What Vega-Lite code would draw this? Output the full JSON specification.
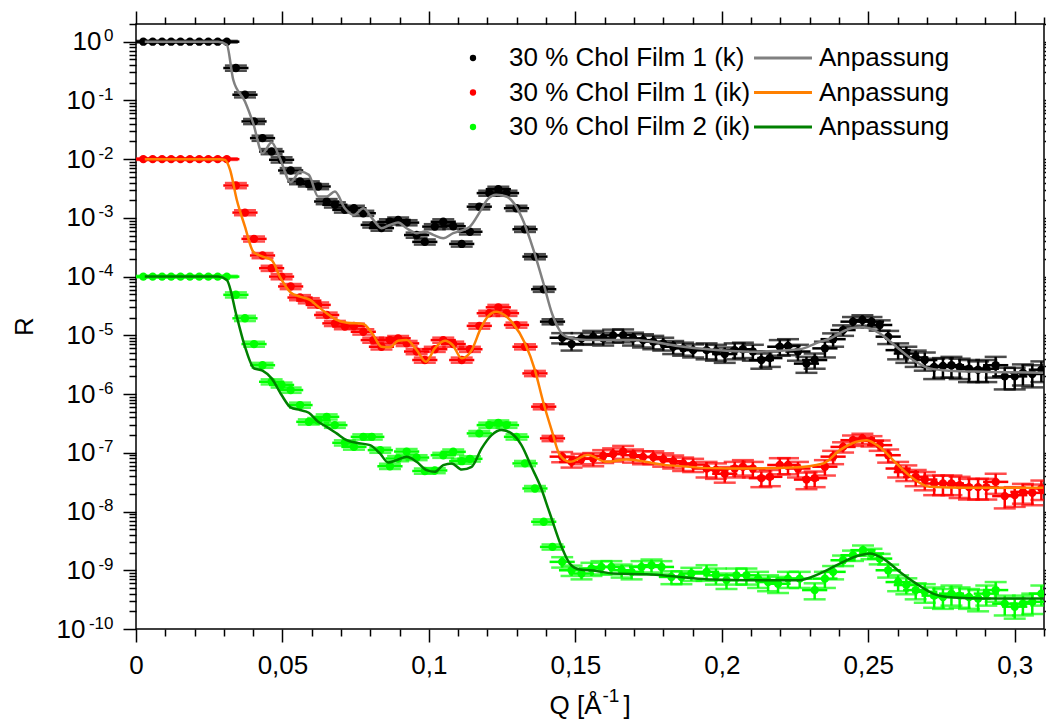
{
"$schema": "https://vega.github.io/schema/vega-lite/v6.json",
"width": 908, "height": 605,
"autosize": {"type": "none"},
"padding": {"left": 136, "top": 24, "right": 2, "bottom": 91},
"background": "white",
"config": {
 "font": "Liberation Sans",
 "view": {"stroke": "#000", "strokeWidth": 1.5},
 "axis": {"domain": false, "grid": false, "tickColor": "#000", "tickWidth": 1.5, "labelColor": "#000", "labelFont": "Liberation Sans", "labelFontSize": 26, "titleFont": "Liberation Sans", "titleFontSize": 26, "titleFontWeight": "normal", "titleColor": "#000"},
 "legend": {"labelFont": "Liberation Sans", "labelColor": "#000"}
},
"datasets": {
"pts": [
{"s":"a","Q":0.0025,"R":1,"dR":0.03,"dQ":0.0043},{"s":"a","Q":0.0057,"R":1,"dR":0.03,"dQ":0.0043},{"s":"a","Q":0.0089,"R":1,"dR":0.03,"dQ":0.0043},{"s":"a","Q":0.0120,"R":1,"dR":0.03,"dQ":0.0043},{"s":"a","Q":0.0152,"R":1,"dR":0.03,"dQ":0.0043},{"s":"a","Q":0.0184,"R":1,"dR":0.03,"dQ":0.0043},{"s":"a","Q":0.0216,"R":1,"dR":0.03,"dQ":0.0043},{"s":"a","Q":0.0247,"R":1,"dR":0.03,"dQ":0.0043},{"s":"a","Q":0.0279,"R":1,"dR":0.03,"dQ":0.0043},{"s":"a","Q":0.0310,"R":1,"dR":0.03,"dQ":0.0043},
{"s":"a","Q":0.0341,"R":0.356,"dR":0.036,"dQ":0.0043},{"s":"a","Q":0.0372,"R":0.125,"dR":0.0125,"dQ":0.0043},{"s":"a","Q":0.0403,"R":0.0439,"dR":0.0044,"dQ":0.0043},{"s":"a","Q":0.0432,"R":0.0228,"dR":0.0023,"dQ":0.0043},{"s":"a","Q":0.0463,"R":0.0135,"dR":0.00135,"dQ":0.0043},{"s":"a","Q":0.0497,"R":0.00975,"dR":0.001,"dQ":0.0043},{"s":"a","Q":0.0528,"R":0.00641,"dR":0.00064,"dQ":0.0043},{"s":"a","Q":0.0560,"R":0.00416,"dR":0.00042,"dQ":0.0043},{"s":"a","Q":0.0590,"R":0.0038,"dR":0.00038,"dQ":0.0043},{"s":"a","Q":0.0622,"R":0.00342,"dR":0.00034,"dQ":0.0043},
{"s":"a","Q":0.0651,"R":0.0019,"dR":0.00019,"dQ":0.0043},{"s":"a","Q":0.0679,"R":0.00167,"dR":0.00017,"dQ":0.0043},{"s":"a","Q":0.0713,"R":0.00137,"dR":0.00014,"dQ":0.0043},{"s":"a","Q":0.0744,"R":0.00146,"dR":0.00015,"dQ":0.0043},{"s":"a","Q":0.0776,"R":0.0012,"dR":0.00012,"dQ":0.0043},{"s":"a","Q":0.0810,"R":0.00076,"dR":0.000076,"dQ":0.0043},{"s":"a","Q":0.0838,"R":0.00067,"dR":0.000067,"dQ":0.0043},{"s":"a","Q":0.0867,"R":0.00086,"dR":0.000086,"dQ":0.0043},{"s":"a","Q":0.0895,"R":0.00092,"dR":0.000092,"dQ":0.0043},{"s":"a","Q":0.0924,"R":0.00083,"dR":0.000083,"dQ":0.0043},
{"s":"a","Q":0.0958,"R":0.00051,"dR":0.000051,"dQ":0.0043},{"s":"a","Q":0.0986,"R":0.00039,"dR":0.000039,"dQ":0.0043},{"s":"a","Q":0.1020,"R":0.00071,"dR":0.000071,"dQ":0.0043},{"s":"a","Q":0.1049,"R":0.00086,"dR":0.000086,"dQ":0.0043},{"s":"a","Q":0.1083,"R":0.00072,"dR":0.000072,"dQ":0.0043},{"s":"a","Q":0.1112,"R":0.00036,"dR":0.000036,"dQ":0.0043},{"s":"a","Q":0.1140,"R":0.00058,"dR":0.000058,"dQ":0.0043},{"s":"a","Q":0.1172,"R":0.00155,"dR":0.000155,"dQ":0.0043},{"s":"a","Q":0.1206,"R":0.00264,"dR":0.00026,"dQ":0.0043},{"s":"a","Q":0.1237,"R":0.00308,"dR":0.00031,"dQ":0.0043},
{"s":"a","Q":0.1265,"R":0.00264,"dR":0.00026,"dQ":0.0043},{"s":"a","Q":0.1299,"R":0.00146,"dR":0.00015,"dQ":0.0043},{"s":"a","Q":0.1328,"R":0.00064,"dR":0.000064,"dQ":0.0043},{"s":"a","Q":0.1362,"R":0.000219,"dR":0.000022,"dQ":0.0043},{"s":"a","Q":0.1392,"R":6.1e-5,"dR":6e-6,"dQ":0.0043},{"s":"a","Q":0.1422,"R":1.71e-5,"dR":1.7e-6,"dQ":0.0043},{"s":"a","Q":0.1455,"R":9.1e-6,"dR":1.8e-6,"dQ":0.0043},{"s":"a","Q":0.1487,"R":7.1e-6,"dR":1.6e-6,"dQ":0.0043},{"s":"a","Q":0.1521,"R":8.9e-6,"dR":2e-6,"dQ":0.0043},{"s":"a","Q":0.1561,"R":9.5e-6,"dR":2.4e-6,"dQ":0.0043},
{"s":"a","Q":0.1595,"R":8.9e-6,"dR":2.2e-6,"dQ":0.0043},{"s":"a","Q":0.1629,"R":1.0e-5,"dR":2.5e-6,"dQ":0.0043},{"s":"a","Q":0.1663,"R":1.01e-5,"dR":2.5e-6,"dQ":0.0043},{"s":"a","Q":0.1697,"R":8.9e-6,"dR":2.2e-6,"dQ":0.0043},{"s":"a","Q":0.1731,"R":8.3e-6,"dR":2.1e-6,"dQ":0.0043},{"s":"a","Q":0.1766,"R":7.8e-6,"dR":2e-6,"dQ":0.0043},{"s":"a","Q":0.1800,"R":7.3e-6,"dR":1.8e-6,"dQ":0.0043},{"s":"a","Q":0.1834,"R":6.4e-6,"dR":1.6e-6,"dQ":0.0043},{"s":"a","Q":0.1868,"R":6.0e-6,"dR":1.5e-6,"dQ":0.0043},{"s":"a","Q":0.1902,"R":5.6e-6,"dR":1.4e-6,"dQ":0.0043},
{"s":"a","Q":0.1948,"R":5.6e-6,"dR":1.7e-6,"dQ":0.0043},{"s":"a","Q":0.1980,"R":5.3e-6,"dR":1.6e-6,"dQ":0.0043},{"s":"a","Q":0.2010,"R":4.8e-6,"dR":1.4e-6,"dQ":0.0043},{"s":"a","Q":0.2044,"R":5.6e-6,"dR":1.7e-6,"dQ":0.0043},{"s":"a","Q":0.2072,"R":5.8e-6,"dR":1.7e-6,"dQ":0.0043},{"s":"a","Q":0.2106,"R":5.3e-6,"dR":1.6e-6,"dQ":0.0043},{"s":"a","Q":0.2135,"R":3.8e-6,"dR":1.1e-6,"dQ":0.0043},{"s":"a","Q":0.2164,"R":4.1e-6,"dR":1.2e-6,"dQ":0.0043},{"s":"a","Q":0.2198,"R":6.4e-6,"dR":1.9e-6,"dQ":0.0043},{"s":"a","Q":0.2226,"R":6.6e-6,"dR":2e-6,"dQ":0.0043},
{"s":"a","Q":0.2260,"R":5.3e-6,"dR":1.6e-6,"dQ":0.0043},{"s":"a","Q":0.2289,"R":3.3e-6,"dR":1e-6,"dQ":0.0043},{"s":"a","Q":0.2317,"R":3.8e-6,"dR":1.1e-6,"dQ":0.0043},{"s":"a","Q":0.2352,"R":6.0e-6,"dR":1.8e-6,"dQ":0.0043},{"s":"a","Q":0.2380,"R":8.6e-6,"dR":2.2e-6,"dQ":0.0043},{"s":"a","Q":0.2414,"R":1.23e-5,"dR":2.5e-6,"dQ":0.0043},{"s":"a","Q":0.2448,"R":1.71e-5,"dR":3.4e-6,"dQ":0.0043},{"s":"a","Q":0.2480,"R":1.83e-5,"dR":3.7e-6,"dQ":0.0043},{"s":"a","Q":0.2511,"R":1.71e-5,"dR":3.4e-6,"dQ":0.0043},{"s":"a","Q":0.2539,"R":1.5e-5,"dR":3e-6,"dQ":0.0043},
{"s":"a","Q":0.2568,"R":9.5e-6,"dR":2.4e-6,"dQ":0.0043},{"s":"a","Q":0.2602,"R":5.6e-6,"dR":1.7e-6,"dQ":0.0043},{"s":"a","Q":0.2630,"R":4.9e-6,"dR":1.5e-6,"dQ":0.0043},{"s":"a","Q":0.2662,"R":4.2e-6,"dR":1.3e-6,"dQ":0.0043},{"s":"a","Q":0.2693,"R":3.8e-6,"dR":1.3e-6,"dQ":0.0043},{"s":"a","Q":0.2725,"R":2.9e-6,"dR":1.1e-6,"dQ":0.0043},{"s":"a","Q":0.2755,"R":3.0e-6,"dR":1.1e-6,"dQ":0.0043},{"s":"a","Q":0.2784,"R":3.1e-6,"dR":1.2e-6,"dQ":0.0043},{"s":"a","Q":0.2812,"R":2.9e-6,"dR":1.1e-6,"dQ":0.0043},{"s":"a","Q":0.2844,"R":2.7e-6,"dR":1.1e-6,"dQ":0.0043},
{"s":"a","Q":0.2875,"R":2.6e-6,"dR":1.0e-6,"dQ":0.0043},{"s":"a","Q":0.2903,"R":2.7e-6,"dR":1.1e-6,"dQ":0.0043},{"s":"a","Q":0.2935,"R":3.1e-6,"dR":1.2e-6,"dQ":0.0043},{"s":"a","Q":0.2966,"R":2.0e-6,"dR":0.8e-6,"dQ":0.0043},{"s":"a","Q":0.3000,"R":2.0e-6,"dR":0.8e-6,"dQ":0.0043},{"s":"a","Q":0.3028,"R":2.3e-6,"dR":0.9e-6,"dQ":0.0043},{"s":"a","Q":0.3060,"R":2.2e-6,"dR":0.9e-6,"dQ":0.0043},{"s":"a","Q":0.3091,"R":2.6e-6,"dR":1.0e-6,"dQ":0.0043},

{"s":"b","Q":0.0025,"R":0.01,"dR":0.0003,"dQ":0.0043},{"s":"b","Q":0.0057,"R":0.01,"dR":0.0003,"dQ":0.0043},{"s":"b","Q":0.0089,"R":0.01,"dR":0.0003,"dQ":0.0043},{"s":"b","Q":0.0120,"R":0.01,"dR":0.0003,"dQ":0.0043},{"s":"b","Q":0.0152,"R":0.01,"dR":0.0003,"dQ":0.0043},{"s":"b","Q":0.0184,"R":0.01,"dR":0.0003,"dQ":0.0043},{"s":"b","Q":0.0216,"R":0.01,"dR":0.0003,"dQ":0.0043},{"s":"b","Q":0.0247,"R":0.01,"dR":0.0003,"dQ":0.0043},{"s":"b","Q":0.0279,"R":0.01,"dR":0.0003,"dQ":0.0043},{"s":"b","Q":0.0310,"R":0.01,"dR":0.0003,"dQ":0.0043},
{"s":"b","Q":0.0341,"R":3.56e-3,"dR":3.6e-4,"dQ":0.0043},{"s":"b","Q":0.0372,"R":1.23e-3,"dR":1.2e-4,"dQ":0.0043},{"s":"b","Q":0.0403,"R":4.39e-4,"dR":4.4e-5,"dQ":0.0043},{"s":"b","Q":0.0432,"R":2.29e-4,"dR":2.3e-5,"dQ":0.0043},{"s":"b","Q":0.0463,"R":1.39e-4,"dR":1.4e-5,"dQ":0.0043},{"s":"b","Q":0.0497,"R":1.0e-4,"dR":1e-5,"dQ":0.0043},{"s":"b","Q":0.0528,"R":6.8e-5,"dR":6.8e-6,"dQ":0.0043},{"s":"b","Q":0.0560,"R":4.4e-5,"dR":4.4e-6,"dQ":0.0043},{"s":"b","Q":0.0590,"R":3.9e-5,"dR":3.9e-6,"dQ":0.0043},{"s":"b","Q":0.0622,"R":3.3e-5,"dR":3.3e-6,"dQ":0.0043},
{"s":"b","Q":0.0651,"R":2.22e-5,"dR":2.2e-6,"dQ":0.0043},{"s":"b","Q":0.0679,"R":1.6e-5,"dR":1.6e-6,"dQ":0.0043},{"s":"b","Q":0.0713,"R":1.41e-5,"dR":1.4e-6,"dQ":0.0043},{"s":"b","Q":0.0744,"R":1.44e-5,"dR":1.4e-6,"dQ":0.0043},{"s":"b","Q":0.0776,"R":1.15e-5,"dR":1.2e-6,"dQ":0.0043},{"s":"b","Q":0.0810,"R":8.3e-6,"dR":8.3e-7,"dQ":0.0043},{"s":"b","Q":0.0838,"R":6.4e-6,"dR":6.4e-7,"dQ":0.0043},{"s":"b","Q":0.0867,"R":8.3e-6,"dR":8.3e-7,"dQ":0.0043},{"s":"b","Q":0.0895,"R":8.9e-6,"dR":8.9e-7,"dQ":0.0043},{"s":"b","Q":0.0924,"R":7.3e-6,"dR":7.3e-7,"dQ":0.0043},
{"s":"b","Q":0.0958,"R":5.3e-6,"dR":5.3e-7,"dQ":0.0043},{"s":"b","Q":0.0986,"R":3.8e-6,"dR":3.8e-7,"dQ":0.0043},{"s":"b","Q":0.1020,"R":5.8e-6,"dR":5.8e-7,"dQ":0.0043},{"s":"b","Q":0.1049,"R":8.3e-6,"dR":8.3e-7,"dQ":0.0043},{"s":"b","Q":0.1083,"R":7.1e-6,"dR":7.1e-7,"dQ":0.0043},{"s":"b","Q":0.1112,"R":3.8e-6,"dR":3.8e-7,"dQ":0.0043},{"s":"b","Q":0.1140,"R":5.8e-6,"dR":5.8e-7,"dQ":0.0043},{"s":"b","Q":0.1172,"R":1.45e-5,"dR":1.5e-6,"dQ":0.0043},{"s":"b","Q":0.1206,"R":2.38e-5,"dR":2.4e-6,"dQ":0.0043},{"s":"b","Q":0.1237,"R":3.0e-5,"dR":3e-6,"dQ":0.0043},
{"s":"b","Q":0.1265,"R":2.38e-5,"dR":2.4e-6,"dQ":0.0043},{"s":"b","Q":0.1299,"R":1.5e-5,"dR":1.5e-6,"dQ":0.0043},{"s":"b","Q":0.1328,"R":6.4e-6,"dR":6.4e-7,"dQ":0.0043},{"s":"b","Q":0.1362,"R":2.25e-6,"dR":2.3e-7,"dQ":0.0043},{"s":"b","Q":0.1392,"R":6.1e-7,"dR":6e-8,"dQ":0.0043},{"s":"b","Q":0.1422,"R":1.76e-7,"dR":1.8e-8,"dQ":0.0043},{"s":"b","Q":0.1455,"R":8.6e-8,"dR":1.7e-8,"dQ":0.0043},{"s":"b","Q":0.1487,"R":7.0e-8,"dR":1.4e-8,"dQ":0.0043},{"s":"b","Q":0.1521,"R":8.0e-8,"dR":1.6e-8,"dQ":0.0043},{"s":"b","Q":0.1561,"R":7.9e-8,"dR":2e-8,"dQ":0.0043},
{"s":"b","Q":0.1595,"R":8.9e-8,"dR":2.2e-8,"dQ":0.0043},{"s":"b","Q":0.1629,"R":9.5e-8,"dR":2.4e-8,"dQ":0.0043},{"s":"b","Q":0.1663,"R":1.05e-7,"dR":2.6e-8,"dQ":0.0043},{"s":"b","Q":0.1697,"R":9.1e-8,"dR":2.3e-8,"dQ":0.0043},{"s":"b","Q":0.1731,"R":8.5e-8,"dR":2.1e-8,"dQ":0.0043},{"s":"b","Q":0.1766,"R":8.5e-8,"dR":2.1e-8,"dQ":0.0043},{"s":"b","Q":0.1800,"R":7.8e-8,"dR":2e-8,"dQ":0.0043},{"s":"b","Q":0.1834,"R":7.2e-8,"dR":1.8e-8,"dQ":0.0043},{"s":"b","Q":0.1868,"R":6.6e-8,"dR":1.7e-8,"dQ":0.0043},{"s":"b","Q":0.1902,"R":6.3e-8,"dR":1.6e-8,"dQ":0.0043},
{"s":"b","Q":0.1948,"R":5.4e-8,"dR":1.6e-8,"dQ":0.0043},{"s":"b","Q":0.1980,"R":5.1e-8,"dR":1.5e-8,"dQ":0.0043},{"s":"b","Q":0.2010,"R":4.4e-8,"dR":1.3e-8,"dQ":0.0043},{"s":"b","Q":0.2044,"R":5.4e-8,"dR":1.6e-8,"dQ":0.0043},{"s":"b","Q":0.2072,"R":5.8e-8,"dR":1.7e-8,"dQ":0.0043},{"s":"b","Q":0.2106,"R":5.4e-8,"dR":1.6e-8,"dQ":0.0043},{"s":"b","Q":0.2135,"R":3.7e-8,"dR":1.1e-8,"dQ":0.0043},{"s":"b","Q":0.2164,"R":3.9e-8,"dR":1.2e-8,"dQ":0.0043},{"s":"b","Q":0.2198,"R":6.2e-8,"dR":1.9e-8,"dQ":0.0043},{"s":"b","Q":0.2226,"R":6.2e-8,"dR":1.9e-8,"dQ":0.0043},
{"s":"b","Q":0.2260,"R":5.4e-8,"dR":1.6e-8,"dQ":0.0043},{"s":"b","Q":0.2289,"R":3.5e-8,"dR":1.1e-8,"dQ":0.0043},{"s":"b","Q":0.2317,"R":3.7e-8,"dR":1.1e-8,"dQ":0.0043},{"s":"b","Q":0.2352,"R":5.8e-8,"dR":1.7e-8,"dQ":0.0043},{"s":"b","Q":0.2380,"R":8.6e-8,"dR":2.2e-8,"dQ":0.0043},{"s":"b","Q":0.2414,"R":1.26e-7,"dR":2.5e-8,"dQ":0.0043},{"s":"b","Q":0.2448,"R":1.64e-7,"dR":3.3e-8,"dQ":0.0043},{"s":"b","Q":0.2480,"R":1.76e-7,"dR":3.5e-8,"dQ":0.0043},{"s":"b","Q":0.2511,"R":1.6e-7,"dR":3.2e-8,"dQ":0.0043},{"s":"b","Q":0.2539,"R":1.35e-7,"dR":2.7e-8,"dQ":0.0043},
{"s":"b","Q":0.2568,"R":9.1e-8,"dR":2.3e-8,"dQ":0.0043},{"s":"b","Q":0.2602,"R":5.4e-8,"dR":1.6e-8,"dQ":0.0043},{"s":"b","Q":0.2630,"R":4.7e-8,"dR":1.4e-8,"dQ":0.0043},{"s":"b","Q":0.2662,"R":3.9e-8,"dR":1.2e-8,"dQ":0.0043},{"s":"b","Q":0.2693,"R":3.5e-8,"dR":1.2e-8,"dQ":0.0043},{"s":"b","Q":0.2725,"R":3.0e-8,"dR":1.1e-8,"dQ":0.0043},{"s":"b","Q":0.2755,"R":3.0e-8,"dR":1.1e-8,"dQ":0.0043},{"s":"b","Q":0.2784,"R":3.0e-8,"dR":1.1e-8,"dQ":0.0043},{"s":"b","Q":0.2812,"R":2.8e-8,"dR":1.1e-8,"dQ":0.0043},{"s":"b","Q":0.2844,"R":2.6e-8,"dR":1.0e-8,"dQ":0.0043},
{"s":"b","Q":0.2875,"R":2.6e-8,"dR":1.0e-8,"dQ":0.0043},{"s":"b","Q":0.2903,"R":2.6e-8,"dR":1.0e-8,"dQ":0.0043},{"s":"b","Q":0.2935,"R":3.2e-8,"dR":1.2e-8,"dQ":0.0043},{"s":"b","Q":0.2966,"R":1.83e-8,"dR":7e-9,"dQ":0.0043},{"s":"b","Q":0.3000,"R":1.9e-8,"dR":7e-9,"dQ":0.0043},{"s":"b","Q":0.3028,"R":2.16e-8,"dR":8e-9,"dQ":0.0043},{"s":"b","Q":0.3060,"R":2.08e-8,"dR":8e-9,"dQ":0.0043},{"s":"b","Q":0.3091,"R":2.47e-8,"dR":9e-9,"dQ":0.0043},

{"s":"c","Q":0.0025,"R":1e-4,"dR":3e-6,"dQ":0.0043},{"s":"c","Q":0.0057,"R":1e-4,"dR":3e-6,"dQ":0.0043},{"s":"c","Q":0.0089,"R":1e-4,"dR":3e-6,"dQ":0.0043},{"s":"c","Q":0.0120,"R":1e-4,"dR":3e-6,"dQ":0.0043},{"s":"c","Q":0.0152,"R":1e-4,"dR":3e-6,"dQ":0.0043},{"s":"c","Q":0.0184,"R":1e-4,"dR":3e-6,"dQ":0.0043},{"s":"c","Q":0.0216,"R":1e-4,"dR":3e-6,"dQ":0.0043},{"s":"c","Q":0.0247,"R":1e-4,"dR":3e-6,"dQ":0.0043},{"s":"c","Q":0.0279,"R":1e-4,"dR":3e-6,"dQ":0.0043},{"s":"c","Q":0.0310,"R":1e-4,"dR":3e-6,"dQ":0.0043},
{"s":"c","Q":0.0341,"R":4.9e-5,"dR":4.9e-6,"dQ":0.0043},{"s":"c","Q":0.0372,"R":1.95e-5,"dR":2e-6,"dQ":0.0043},{"s":"c","Q":0.0403,"R":7.1e-6,"dR":7e-7,"dQ":0.0043},{"s":"c","Q":0.0432,"R":3.1e-6,"dR":3e-7,"dQ":0.0043},{"s":"c","Q":0.0463,"R":1.62e-6,"dR":1.6e-7,"dQ":0.0043},{"s":"c","Q":0.0497,"R":1.43e-6,"dR":1.4e-7,"dQ":0.0043},{"s":"c","Q":0.0528,"R":1.17e-6,"dR":1.2e-7,"dQ":0.0043},{"s":"c","Q":0.0560,"R":6.5e-7,"dR":6.5e-8,"dQ":0.0043},{"s":"c","Q":0.0590,"R":3.37e-7,"dR":3.4e-8,"dQ":0.0043},{"s":"c","Q":0.0622,"R":3.55e-7,"dR":3.6e-8,"dQ":0.0043},
{"s":"c","Q":0.0651,"R":4.1e-7,"dR":4.1e-8,"dQ":0.0043},{"s":"c","Q":0.0679,"R":2.96e-7,"dR":3e-8,"dQ":0.0043},{"s":"c","Q":0.0713,"R":1.48e-7,"dR":1.5e-8,"dQ":0.0043},{"s":"c","Q":0.0744,"R":1.26e-7,"dR":1.3e-8,"dQ":0.0043},{"s":"c","Q":0.0776,"R":1.87e-7,"dR":1.9e-8,"dQ":0.0043},{"s":"c","Q":0.0805,"R":1.87e-7,"dR":1.9e-8,"dQ":0.0043},{"s":"c","Q":0.0834,"R":1.11e-7,"dR":1.1e-8,"dQ":0.0043},{"s":"c","Q":0.0867,"R":5.9e-8,"dR":6e-9,"dQ":0.0043},{"s":"c","Q":0.0895,"R":8.0e-8,"dR":8e-9,"dQ":0.0043},{"s":"c","Q":0.0924,"R":1.05e-7,"dR":1.1e-8,"dQ":0.0043},
{"s":"c","Q":0.0958,"R":8.3e-8,"dR":8e-9,"dQ":0.0043},{"s":"c","Q":0.0986,"R":4.9e-8,"dR":5e-9,"dQ":0.0043},{"s":"c","Q":0.1020,"R":5.0e-8,"dR":5e-9,"dQ":0.0043},{"s":"c","Q":0.1049,"R":9.1e-8,"dR":9e-9,"dQ":0.0043},{"s":"c","Q":0.1083,"R":1.04e-7,"dR":1e-8,"dQ":0.0043},{"s":"c","Q":0.1112,"R":7.2e-8,"dR":7e-9,"dQ":0.0043},{"s":"c","Q":0.1140,"R":7.9e-8,"dR":8e-9,"dQ":0.0043},{"s":"c","Q":0.1172,"R":2.14e-7,"dR":2.1e-8,"dQ":0.0043},{"s":"c","Q":0.1206,"R":2.96e-7,"dR":3e-8,"dQ":0.0043},{"s":"c","Q":0.1237,"R":3.24e-7,"dR":3.2e-8,"dQ":0.0043},
{"s":"c","Q":0.1265,"R":2.96e-7,"dR":3e-8,"dQ":0.0043},{"s":"c","Q":0.1299,"R":1.87e-7,"dR":1.9e-8,"dQ":0.0043},{"s":"c","Q":0.1328,"R":6.6e-8,"dR":6.6e-9,"dQ":0.0043},{"s":"c","Q":0.1362,"R":2.47e-8,"dR":2.5e-9,"dQ":0.0043},{"s":"c","Q":0.1392,"R":6.7e-9,"dR":6.7e-10,"dQ":0.0043},{"s":"c","Q":0.1422,"R":2.5e-9,"dR":2.5e-10,"dQ":0.0043},{"s":"c","Q":0.1455,"R":1.39e-9,"dR":2.8e-10,"dQ":0.0043},{"s":"c","Q":0.1487,"R":1.0e-9,"dR":2e-10,"dQ":0.0043},{"s":"c","Q":0.1521,"R":8.8e-10,"dR":1.8e-10,"dQ":0.0043},{"s":"c","Q":0.1555,"R":1.07e-9,"dR":2.7e-10,"dQ":0.0043},
{"s":"c","Q":0.1589,"R":1.14e-9,"dR":2.9e-10,"dQ":0.0043},{"s":"c","Q":0.1623,"R":1.14e-9,"dR":2.9e-10,"dQ":0.0043},{"s":"c","Q":0.1658,"R":1.0e-9,"dR":2.5e-10,"dQ":0.0043},{"s":"c","Q":0.1692,"R":9.4e-10,"dR":2.4e-10,"dQ":0.0043},{"s":"c","Q":0.1726,"R":1.14e-9,"dR":2.9e-10,"dQ":0.0043},{"s":"c","Q":0.1760,"R":1.22e-9,"dR":3e-10,"dQ":0.0043},{"s":"c","Q":0.1794,"R":1.14e-9,"dR":2.9e-10,"dQ":0.0043},{"s":"c","Q":0.1828,"R":7.7e-10,"dR":1.9e-10,"dQ":0.0043},{"s":"c","Q":0.1862,"R":7.7e-10,"dR":1.9e-10,"dQ":0.0043},{"s":"c","Q":0.1896,"R":8.8e-10,"dR":2.2e-10,"dQ":0.0043},
{"s":"c","Q":0.1948,"R":9.4e-10,"dR":2.8e-10,"dQ":0.0043},{"s":"c","Q":0.1980,"R":8.2e-10,"dR":2.5e-10,"dQ":0.0043},{"s":"c","Q":0.2016,"R":6.8e-10,"dR":2e-10,"dQ":0.0043},{"s":"c","Q":0.2050,"R":8.2e-10,"dR":2.5e-10,"dQ":0.0043},{"s":"c","Q":0.2084,"R":8.2e-10,"dR":2.5e-10,"dQ":0.0043},{"s":"c","Q":0.2124,"R":7.2e-10,"dR":2.2e-10,"dQ":0.0043},{"s":"c","Q":0.2158,"R":6.3e-10,"dR":1.9e-10,"dQ":0.0043},{"s":"c","Q":0.2192,"R":5.9e-10,"dR":1.8e-10,"dQ":0.0043},{"s":"c","Q":0.2226,"R":7.2e-10,"dR":2.2e-10,"dQ":0.0043},{"s":"c","Q":0.2266,"R":7.2e-10,"dR":2.2e-10,"dQ":0.0043},
{"s":"c","Q":0.2317,"R":4.6e-10,"dR":1.4e-10,"dQ":0.0043},{"s":"c","Q":0.2352,"R":7.2e-10,"dR":2.2e-10,"dQ":0.0043},{"s":"c","Q":0.2380,"R":9.4e-10,"dR":2.4e-10,"dQ":0.0043},{"s":"c","Q":0.2414,"R":1.48e-9,"dR":3e-10,"dQ":0.0043},{"s":"c","Q":0.2448,"R":1.8e-9,"dR":3.6e-10,"dQ":0.0043},{"s":"c","Q":0.2482,"R":2.2e-9,"dR":4.4e-10,"dQ":0.0043},{"s":"c","Q":0.2511,"R":1.93e-9,"dR":3.9e-10,"dQ":0.0043},{"s":"c","Q":0.2539,"R":1.58e-9,"dR":3.2e-10,"dQ":0.0043},{"s":"c","Q":0.2568,"R":1.0e-9,"dR":2.5e-10,"dQ":0.0043},{"s":"c","Q":0.2602,"R":6.3e-10,"dR":1.9e-10,"dQ":0.0043},
{"s":"c","Q":0.2630,"R":5.6e-10,"dR":1.7e-10,"dQ":0.0043},{"s":"c","Q":0.2662,"R":4.6e-10,"dR":1.4e-10,"dQ":0.0043},{"s":"c","Q":0.2693,"R":4.3e-10,"dR":1.5e-10,"dQ":0.0043},{"s":"c","Q":0.2725,"R":3.7e-10,"dR":1.4e-10,"dQ":0.0043},{"s":"c","Q":0.2755,"R":3.5e-10,"dR":1.3e-10,"dQ":0.0043},{"s":"c","Q":0.2784,"R":4.0e-10,"dR":1.5e-10,"dQ":0.0043},{"s":"c","Q":0.2812,"R":3.7e-10,"dR":1.4e-10,"dQ":0.0043},{"s":"c","Q":0.2844,"R":3.5e-10,"dR":1.3e-10,"dQ":0.0043},{"s":"c","Q":0.2875,"R":3.3e-10,"dR":1.3e-10,"dQ":0.0043},{"s":"c","Q":0.2903,"R":4.0e-10,"dR":1.5e-10,"dQ":0.0043},
{"s":"c","Q":0.2935,"R":4.6e-10,"dR":1.7e-10,"dQ":0.0043},{"s":"c","Q":0.2966,"R":2.7e-10,"dR":1e-10,"dQ":0.0043},{"s":"c","Q":0.3000,"R":2.4e-10,"dR":9e-11,"dQ":0.0043},{"s":"c","Q":0.3028,"R":2.7e-10,"dR":1e-10,"dQ":0.0043},{"s":"c","Q":0.3060,"R":2.9e-10,"dR":1.1e-10,"dQ":0.0043},{"s":"c","Q":0.3091,"R":4.0e-10,"dR":1.5e-10,"dQ":0.0043}
],
"fit": [
{"f":"fa","Q":0.003,"R":1},{"f":"fa","Q":0.028,"R":1},{"f":"fa","Q":0.031,"R":0.889},{"f":"fa","Q":0.0332,"R":0.225},{"f":"fa","Q":0.0372,"R":0.0962},{"f":"fa","Q":0.040,"R":0.0411},{"f":"fa","Q":0.0432,"R":0.01265},{"f":"fa","Q":0.0463,"R":0.01923},{"f":"fa","Q":0.0491,"R":0.0104},{"f":"fa","Q":0.0528,"R":4.06e-3},{"f":"fa","Q":0.056,"R":6.17e-3},{"f":"fa","Q":0.059,"R":5.41e-3},{"f":"fa","Q":0.0622,"R":2.31e-3},{"f":"fa","Q":0.0651,"R":2.31e-3},{"f":"fa","Q":0.0679,"R":2.81e-3},{"f":"fa","Q":0.0713,"R":1.46e-3},{"f":"fa","Q":0.0744,"R":1.12e-3},{"f":"fa","Q":0.0776,"R":1.46e-3},{"f":"fa","Q":0.081,"R":9.25e-4},{"f":"fa","Q":0.0838,"R":6.67e-4},{"f":"fa","Q":0.0867,"R":7.6e-4},{"f":"fa","Q":0.0895,"R":8.32e-4},{"f":"fa","Q":0.0924,"R":6.67e-4},{"f":"fa","Q":0.0958,"R":5.5e-4},{"f":"fa","Q":0.0986,"R":5.85e-4},{"f":"fa","Q":0.1015,"R":5.13e-4},{"f":"fa","Q":0.1049,"R":4.51e-4},{"f":"fa","Q":0.1083,"R":5.5e-4},{"f":"fa","Q":0.1112,"R":6.08e-4},{"f":"fa","Q":0.114,"R":7.11e-4},{"f":"fa","Q":0.1175,"R":1.29e-3},{"f":"fa","Q":0.1201,"R":2.09e-3},{"f":"fa","Q":0.123,"R":2.47e-3},{"f":"fa","Q":0.1265,"R":2.31e-3},{"f":"fa","Q":0.1294,"R":1.67e-3},{"f":"fa","Q":0.1323,"R":8.65e-4},{"f":"fa","Q":0.1357,"R":2.85e-4},{"f":"fa","Q":0.1391,"R":7.71e-5},{"f":"fa","Q":0.142,"R":2.38e-5},{"f":"fa","Q":0.1442,"R":1.32e-5},{"f":"fa","Q":0.1459,"R":1.01e-5},{"f":"fa","Q":0.1488,"R":8.91e-6},{"f":"fa","Q":0.1538,"R":8.34e-6},{"f":"fa","Q":0.1698,"R":8.34e-6},{"f":"fa","Q":0.1869,"R":6.41e-6},{"f":"fa","Q":0.1982,"R":5.62e-6},{"f":"fa","Q":0.2096,"R":5.27e-6},{"f":"fa","Q":0.2267,"R":5.78e-6},{"f":"fa","Q":0.2321,"R":7.31e-6},{"f":"fa","Q":0.2378,"R":9.25e-6},{"f":"fa","Q":0.2414,"R":1.17e-5},{"f":"fa","Q":0.245,"R":1.35e-5},{"f":"fa","Q":0.2483,"R":1.37e-5},{"f":"fa","Q":0.2539,"R":1.08e-5},{"f":"fa","Q":0.2596,"R":6.41e-6},{"f":"fa","Q":0.2653,"R":3.8e-6},{"f":"fa","Q":0.271,"R":2.74e-6},{"f":"fa","Q":0.2778,"R":2.5e-6},{"f":"fa","Q":0.2892,"R":2.4e-6},{"f":"fa","Q":0.3097,"R":2.31e-6},
{"f":"fb","Q":0.003,"R":0.01},{"f":"fb","Q":0.0285,"R":0.01},{"f":"fb","Q":0.0304,"R":0.0097},{"f":"fb","Q":0.0321,"R":6.61e-3},{"f":"fb","Q":0.0344,"R":2.04e-3},{"f":"fb","Q":0.0372,"R":7.11e-4},{"f":"fb","Q":0.040,"R":2.67e-4},{"f":"fb","Q":0.0432,"R":2.19e-4},{"f":"fb","Q":0.0463,"R":1.92e-4},{"f":"fb","Q":0.0491,"R":1.0e-4},{"f":"fb","Q":0.0528,"R":5.37e-5},{"f":"fb","Q":0.056,"R":4.56e-5},{"f":"fb","Q":0.0594,"R":4.01e-5},{"f":"fb","Q":0.0622,"R":3.08e-5},{"f":"fb","Q":0.0651,"R":2.38e-5},{"f":"fb","Q":0.0685,"R":1.83e-5},{"f":"fb","Q":0.072,"R":1.64e-5},{"f":"fb","Q":0.0776,"R":1.56e-5},{"f":"fb","Q":0.081,"R":1.01e-5},{"f":"fb","Q":0.0838,"R":6.41e-6},{"f":"fb","Q":0.0867,"R":6.25e-6},{"f":"fb","Q":0.0895,"R":8.11e-6},{"f":"fb","Q":0.0924,"R":8.34e-6},{"f":"fb","Q":0.0958,"R":5.62e-6},{"f":"fb","Q":0.099,"R":3.56e-6},{"f":"fb","Q":0.102,"R":6.01e-6},{"f":"fb","Q":0.1055,"R":8.11e-6},{"f":"fb","Q":0.1081,"R":6.85e-6},{"f":"fb","Q":0.1112,"R":4.06e-6},{"f":"fb","Q":0.1146,"R":5.62e-6},{"f":"fb","Q":0.1178,"R":1.35e-5},{"f":"fb","Q":0.1201,"R":2.08e-5},{"f":"fb","Q":0.123,"R":2.53e-5},{"f":"fb","Q":0.1258,"R":2.22e-5},{"f":"fb","Q":0.1287,"R":1.6e-5},{"f":"fb","Q":0.1328,"R":7.31e-6},{"f":"fb","Q":0.1362,"R":2.56e-6},{"f":"fb","Q":0.139,"R":7.4e-7},{"f":"fb","Q":0.1419,"R":2.44e-7},{"f":"fb","Q":0.1447,"R":9.14e-8},{"f":"fb","Q":0.1481,"R":7.01e-8},{"f":"fb","Q":0.1543,"R":9.14e-8},{"f":"fb","Q":0.1606,"R":7.01e-8},{"f":"fb","Q":0.1674,"R":7.71e-8},{"f":"fb","Q":0.1811,"R":6.17e-8},{"f":"fb","Q":0.2038,"R":5.41e-8},{"f":"fb","Q":0.2244,"R":5.62e-8},{"f":"fb","Q":0.2346,"R":6.59e-8},{"f":"fb","Q":0.2403,"R":1.11e-7},{"f":"fb","Q":0.246,"R":1.54e-7},{"f":"fb","Q":0.2494,"R":1.64e-7},{"f":"fb","Q":0.2539,"R":1.26e-7},{"f":"fb","Q":0.2596,"R":6.59e-8},{"f":"fb","Q":0.2653,"R":3.66e-8},{"f":"fb","Q":0.271,"R":2.64e-8},{"f":"fb","Q":0.2835,"R":2.54e-8},{"f":"fb","Q":0.3097,"R":2.54e-8},
{"f":"fc","Q":0.003,"R":1e-4},{"f":"fc","Q":0.0281,"R":1e-4},{"f":"fc","Q":0.031,"R":8.77e-5},{"f":"fc","Q":0.0344,"R":2.08e-5},{"f":"fc","Q":0.0372,"R":6.41e-6},{"f":"fc","Q":0.0403,"R":2.74e-6},{"f":"fc","Q":0.0432,"R":2.5e-6},{"f":"fc","Q":0.0463,"R":1.85e-6},{"f":"fc","Q":0.0497,"R":9.62e-7},{"f":"fc","Q":0.0528,"R":5.93e-7},{"f":"fc","Q":0.056,"R":5.35e-7},{"f":"fc","Q":0.059,"R":4.81e-7},{"f":"fc","Q":0.0622,"R":3.37e-7},{"f":"fc","Q":0.0651,"R":2.77e-7},{"f":"fc","Q":0.0685,"R":2.14e-7},{"f":"fc","Q":0.0719,"R":1.64e-7},{"f":"fc","Q":0.0753,"R":1.48e-7},{"f":"fc","Q":0.0799,"R":1.35e-7},{"f":"fc","Q":0.0833,"R":9.75e-8},{"f":"fc","Q":0.0861,"R":6.85e-8},{"f":"fc","Q":0.089,"R":7.5e-8},{"f":"fc","Q":0.0924,"R":8.55e-8},{"f":"fc","Q":0.0958,"R":7.03e-8},{"f":"fc","Q":0.0992,"R":5.07e-8},{"f":"fc","Q":0.102,"R":4.74e-8},{"f":"fc","Q":0.1049,"R":6.17e-8},{"f":"fc","Q":0.1078,"R":6.59e-8},{"f":"fc","Q":0.1112,"R":5.2e-8},{"f":"fc","Q":0.1146,"R":5.78e-8},{"f":"fc","Q":0.118,"R":1.19e-7},{"f":"fc","Q":0.1214,"R":2.0e-7},{"f":"fc","Q":0.1248,"R":2.44e-7},{"f":"fc","Q":0.1282,"R":2.14e-7},{"f":"fc","Q":0.1316,"R":1.35e-7},{"f":"fc","Q":0.135,"R":5.78e-8},{"f":"fc","Q":0.1379,"R":2.82e-8},{"f":"fc","Q":0.1413,"R":9.27e-9},{"f":"fc","Q":0.1453,"R":2.5e-9},{"f":"fc","Q":0.1481,"R":1.3e-9},{"f":"fc","Q":0.1515,"R":1.03e-9},{"f":"fc","Q":0.1572,"R":9.75e-10},{"f":"fc","Q":0.1629,"R":8.77e-10},{"f":"fc","Q":0.1743,"R":8.55e-10},{"f":"fc","Q":0.1857,"R":7.71e-10},{"f":"fc","Q":0.197,"R":6.93e-10},{"f":"fc","Q":0.2084,"R":6.76e-10},{"f":"fc","Q":0.2262,"R":6.76e-10},{"f":"fc","Q":0.2334,"R":8.77e-10},{"f":"fc","Q":0.2403,"R":1.3e-9},{"f":"fc","Q":0.246,"R":1.73e-9},{"f":"fc","Q":0.2505,"R":1.93e-9},{"f":"fc","Q":0.2551,"R":1.58e-9},{"f":"fc","Q":0.2608,"R":9.38e-10},{"f":"fc","Q":0.2664,"R":5.93e-10},{"f":"fc","Q":0.2721,"R":4.01e-10},{"f":"fc","Q":0.279,"R":3.43e-10},{"f":"fc","Q":0.2892,"R":3.3e-10},{"f":"fc","Q":0.3097,"R":3.31e-10}
]
},
"resolve": {"axis": {"x": "independent", "y": "independent"}},
"layer": [
{
 "data": {"name": "pts"},
 "mark": {"type": "errorbar", "thickness": 2.5, "clip": true},
 "encoding": {
  "x": {"field": "Q", "type": "quantitative", "scale": {"domain": [0, 0.31], "nice": false, "zero": false}, "axis": null},
  "xError": {"field": "dQ"},
  "y": {"field": "R", "type": "quantitative", "scale": {"type": "log", "domain": [1e-10, 2], "nice": false}, "axis": null},
  "color": {"field": "s", "type": "nominal", "scale": {"domain": ["c", "b", "a"], "range": ["#00ff00", "#ff0000", "#000000"]}, "legend": null}
 }
},
{
 "data": {"name": "pts"},
 "mark": {"type": "errorbar", "thickness": 2.5, "ticks": {"size": 22}, "clip": true},
 "encoding": {
  "x": {"field": "Q", "type": "quantitative", "scale": {"domain": [0, 0.31], "nice": false, "zero": false}, "axis": null},
  "y": {"field": "R", "type": "quantitative", "scale": {"type": "log", "domain": [1e-10, 2], "nice": false}, "axis": null},
  "yError": {"field": "dR"},
  "color": {"field": "s", "type": "nominal", "scale": {"domain": ["c", "b", "a"], "range": ["#00ff00", "#ff0000", "#000000"]}, "legend": null}
 }
},
{
 "data": {"name": "pts"},
 "mark": {"type": "point", "shape": "circle", "filled": true, "size": 70, "opacity": 1, "strokeWidth": 0, "clip": true},
 "encoding": {
  "x": {"field": "Q", "type": "quantitative", "scale": {"domain": [0, 0.31], "nice": false, "zero": false},
   "axis": {"orient": "bottom", "title": "Q [Å", "values": [0, 0.05, 0.1, 0.15, 0.2, 0.25, 0.3], "tickSize": 13, "labelPadding": 10, "labelExpr": "replace(format(datum.value, '~g'), '.', ',')", "titleX": 465, "titleY": 84, "titleBaseline": "alphabetic", "titleAlign": "right", "titleAnchor": null, "labelFlush": false, "labelOverlap": false}},
  "y": {"field": "R", "type": "quantitative", "scale": {"type": "log", "domain": [1e-10, 2], "nice": false},
   "axis": {"orient": "left", "title": "R", "values": [1, 1e-1, 1e-2, 1e-3, 1e-4, 1e-5, 1e-6, 1e-7, 1e-8, 1e-9, 1e-10], "tickSize": 13,
    "labelPadding": {"condition": [{"test": "datum.value > 0.5", "value": 22}, {"test": "datum.value < 5e-10", "value": 38}], "value": 28},
    "labelExpr": "'10'", "labelFlush": false, "labelOverlap": false, "titleX": -104, "titleY": 302, "titleAngle": -90, "titleBaseline": "alphabetic", "titleAlign": "center"}},
  "fill": {"field": "s", "type": "nominal", "scale": {"domain": ["a", "b", "c"], "range": ["#000000", "#ff0000", "#00ff00"]},
   "legend": {"orient": "none", "legendX": 324, "legendY": 21, "title": null, "padding": 0, "symbolType": "circle", "symbolSize": 40, "symbolStrokeWidth": 0, "labelFontSize": 26, "labelOffset": 23, "rowPadding": 8.5, "labelLimit": 400,
    "labelExpr": "datum.label == 'a' ? '30 % Chol Film 1 (k)' : (datum.label == 'b' ? '30 % Chol Film 1 (ik)' : '30 % Chol Film 2 (ik)')"}}
 }
},
{
 "data": {"name": "fit"},
 "mark": {"type": "line", "strokeWidth": 2.5, "interpolate": "monotone", "clip": true},
 "encoding": {
  "x": {"field": "Q", "type": "quantitative", "scale": {"domain": [0, 0.31], "nice": false, "zero": false},
   "axis": {"orient": "bottom", "title": "-1", "titleFontSize": 19, "titleX": 466, "titleY": 72, "titleBaseline": "alphabetic", "titleAlign": "left", "titleAnchor": null, "labels": false, "tickSize": 7, "values": [0.01,0.02,0.03,0.04,0.06,0.07,0.08,0.09,0.11,0.12,0.13,0.14,0.16,0.17,0.18,0.19,0.21,0.22,0.23,0.24,0.26,0.27,0.28,0.29,0.31]}},
  "y": {"field": "R", "type": "quantitative", "scale": {"type": "log", "domain": [1e-10, 2], "nice": false},
   "axis": {"orient": "left", "title": null, "values": [1, 1e-1, 1e-2, 1e-3, 1e-4, 1e-5, 1e-6, 1e-7, 1e-8, 1e-9, 1e-10], "tickSize": 13, "tickOpacity": 0, "labelPadding": 10, "labelFontSize": 17, "labelOffset": -6, "labelExpr": "'' + round(log(datum.value)/LN10)", "labelFlush": false, "labelOverlap": false}},
  "stroke": {"field": "f", "type": "nominal", "scale": {"domain": ["fa", "fb", "fc"], "range": ["#808080", "#ff8000", "#008000"]},
   "legend": {"orient": "none", "legendX": 634, "legendY": 21, "title": null, "padding": 0, "symbolType": "M-4,0H4", "symbolSize": 210, "symbolStrokeWidth": 3, "labelFontSize": 26, "labelOffset": 23, "rowPadding": 8.5, "labelExpr": "'Anpassung'"}}
 }
},
{
 "data": {"name": "fit"},
 "mark": {"type": "point", "opacity": 0},
 "encoding": {
  "x": {"field": "Q", "type": "quantitative", "scale": {"domain": [0, 0.31], "nice": false, "zero": false},
   "axis": {"orient": "top", "title": "]", "titleX": 487, "titleY": 689, "titleBaseline": "alphabetic", "titleAlign": "left", "titleAnchor": null, "labels": false, "tickSize": 13, "values": [0, 0.05, 0.1, 0.15, 0.2, 0.25, 0.3]}},
  "y": {"field": "R", "type": "quantitative", "scale": {"type": "log", "domain": [1e-10, 2], "nice": false},
   "axis": {"orient": "left", "title": null, "labels": false, "tickSize": 7,
    "values": [2,9e-1,8e-1,7e-1,6e-1,5e-1,4e-1,3e-1,2e-1,9e-2,8e-2,7e-2,6e-2,5e-2,4e-2,3e-2,2e-2,9e-3,8e-3,7e-3,6e-3,5e-3,4e-3,3e-3,2e-3,9e-4,8e-4,7e-4,6e-4,5e-4,4e-4,3e-4,2e-4,9e-5,8e-5,7e-5,6e-5,5e-5,4e-5,3e-5,2e-5,9e-6,8e-6,7e-6,6e-6,5e-6,4e-6,3e-6,2e-6,9e-7,8e-7,7e-7,6e-7,5e-7,4e-7,3e-7,2e-7,9e-8,8e-8,7e-8,6e-8,5e-8,4e-8,3e-8,2e-8,9e-9,8e-9,7e-9,6e-9,5e-9,4e-9,3e-9,2e-9,9e-10,8e-10,7e-10,6e-10,5e-10,4e-10,3e-10,2e-10]}}
 }
},
{
 "data": {"name": "fit"},
 "mark": {"type": "point", "opacity": 0},
 "encoding": {
  "x": {"field": "Q", "type": "quantitative", "scale": {"domain": [0, 0.31], "nice": false, "zero": false},
   "axis": {"orient": "top", "title": null, "labels": false, "tickSize": 7, "values": [0.01,0.02,0.03,0.04,0.06,0.07,0.08,0.09,0.11,0.12,0.13,0.14,0.16,0.17,0.18,0.19,0.21,0.22,0.23,0.24,0.26,0.27,0.28,0.29,0.31]}},
  "y": {"field": "R", "type": "quantitative", "scale": {"type": "log", "domain": [1e-10, 2], "nice": false},
   "axis": {"orient": "right", "title": null, "labels": false, "tickSize": 13, "values": [1, 1e-1, 1e-2, 1e-3, 1e-4, 1e-5, 1e-6, 1e-7, 1e-8, 1e-9, 1e-10]}}
 }
},
{
 "data": {"name": "fit"},
 "mark": {"type": "point", "opacity": 0},
 "encoding": {
  "x": {"field": "Q", "type": "quantitative", "scale": {"domain": [0, 0.31], "nice": false, "zero": false}, "axis": null},
  "y": {"field": "R", "type": "quantitative", "scale": {"type": "log", "domain": [1e-10, 2], "nice": false},
   "axis": {"orient": "right", "title": null, "labels": false, "tickSize": 7,
    "values": [2,9e-1,8e-1,7e-1,6e-1,5e-1,4e-1,3e-1,2e-1,9e-2,8e-2,7e-2,6e-2,5e-2,4e-2,3e-2,2e-2,9e-3,8e-3,7e-3,6e-3,5e-3,4e-3,3e-3,2e-3,9e-4,8e-4,7e-4,6e-4,5e-4,4e-4,3e-4,2e-4,9e-5,8e-5,7e-5,6e-5,5e-5,4e-5,3e-5,2e-5,9e-6,8e-6,7e-6,6e-6,5e-6,4e-6,3e-6,2e-6,9e-7,8e-7,7e-7,6e-7,5e-7,4e-7,3e-7,2e-7,9e-8,8e-8,7e-8,6e-8,5e-8,4e-8,3e-8,2e-8,9e-9,8e-9,7e-9,6e-9,5e-9,4e-9,3e-9,2e-9,9e-10,8e-10,7e-10,6e-10,5e-10,4e-10,3e-10,2e-10]}}
 }
}
]
}
